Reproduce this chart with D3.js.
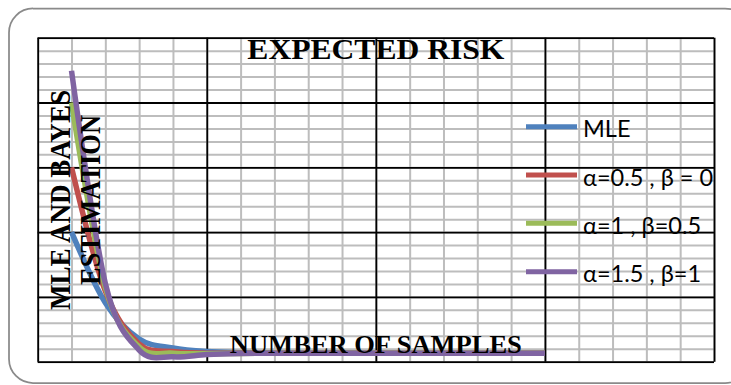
<!DOCTYPE html>
<html>
<head>
<meta charset="utf-8">
<script src="https://cdn.jsdelivr.net/npm/d3@7"></script>
<style>
  html, body { margin: 0; padding: 0; background: #fff; }
  svg { display: block; }
</style>
</head>
<body>
<svg id="chart" width="731" height="385"></svg>
<script>
// Number of samples along the x axis
const sampleSizes = [10, 20, 30, 40, 50, 60, 70, 80, 90, 100, 110, 120, 130, 140, 150];

// Expected risk of each estimator
const mle        = [0.100, 0.0455, 0.0175, 0.0106, 0.0078, 0.0070, 0.0068, 0.0067, 0.0067, 0.0066, 0.0066, 0.0066, 0.0066, 0.0066, 0.0066];
const bayesA05B0 = [0.150, 0.0545, 0.0137, 0.0078, 0.0066, 0.0065, 0.0065, 0.0065, 0.0065, 0.0065, 0.0065, 0.0065, 0.0065, 0.0065, 0.0065];
const bayesA1B05 = [0.200, 0.0575, 0.0114, 0.0066, 0.0062, 0.0064, 0.0065, 0.0065, 0.0065, 0.0065, 0.0065, 0.0065, 0.0065, 0.0065, 0.0065];
const bayesA15B1 = [0.2245, 0.0605, 0.0090, 0.0038, 0.0055, 0.0063, 0.0065, 0.0065, 0.0065, 0.0065, 0.0065, 0.0065, 0.0065, 0.0065, 0.0065];

const seriesNames  = ["MLE", "α=0.5 , β = 0", "α=1 , β=0.5", "α=1.5 , β=1"];
const seriesColors = ["#4F81BD", "#C0504D", "#9BBB59", "#8064A2"];
const seriesValues = [mle, bayesA05B0, bayesA1B05, bayesA15B1];

const chartTitle = "EXPECTED RISK";
const xTitle = "NUMBER OF SAMPLES";
const yTitleLines = ["MLE AND BAYES", "ESTIMATION"];

const svg = d3.select("#chart");

// Chart-area frame
svg.append("rect")
  .attr("x", 9).attr("y", 8.5)
  .attr("width", 740).attr("height", 374.5)
  .attr("rx", 24).attr("ry", 24)
  .attr("fill", "#fff")
  .attr("stroke", "#8a8a8a")
  .attr("stroke-width", 1.75);

const plot = { left: 37.7, right: 714, top: 37.7, bottom: 361.7 };

const x = d3.scaleLinear().domain([0, 200]).range([plot.left, plot.right]);
const y = d3.scaleLinear().domain([0, 0.25]).range([plot.bottom, plot.top]);

const xMinor = d3.range(0, 201, 10);
const xMajor = d3.range(0, 201, 50);
const yMinor = d3.range(0, 0.2501, 0.01);
const yMajor = d3.range(0, 0.2501, 0.05);

// Minor gridlines
svg.append("g")
  .attr("transform", `translate(0,${plot.bottom})`)
  .call(d3.axisBottom(x).tickValues(xMinor).tickSize(-(plot.bottom - plot.top)).tickFormat(""))
  .call(g => g.select(".domain").remove())
  .call(g => g.selectAll("line").attr("stroke", "#bdbdbd").attr("stroke-width", 2));

svg.append("g")
  .attr("transform", `translate(${plot.left},0)`)
  .call(d3.axisLeft(y).tickValues(yMinor).tickSize(-(plot.right - plot.left)).tickFormat(""))
  .call(g => g.select(".domain").remove())
  .call(g => g.selectAll("line").attr("stroke", "#bdbdbd").attr("stroke-width", 2));

// Major gridlines
svg.append("g")
  .attr("transform", `translate(0,${plot.bottom})`)
  .call(d3.axisBottom(x).tickValues(xMajor).tickSize(-(plot.bottom - plot.top)).tickFormat(""))
  .call(g => g.select(".domain").remove())
  .call(g => g.selectAll("line").attr("stroke", "#000").attr("stroke-width", 1.8));

svg.append("g")
  .attr("transform", `translate(${plot.left},0)`)
  .call(d3.axisLeft(y).tickValues(yMajor).tickSize(-(plot.right - plot.left)).tickFormat(""))
  .call(g => g.select(".domain").remove())
  .call(g => g.selectAll("line").attr("stroke", "#000").attr("stroke-width", 1.8));

// Smoothed series lines
const line = d3.line()
  .x((d, i) => x(sampleSizes[i]))
  .y(d => y(d))
  .curve(d3.curveCardinal.tension(0));

svg.append("g")
  .selectAll("path")
  .data(seriesValues)
  .join("path")
  .attr("d", d => line(d))
  .attr("fill", "none")
  .attr("stroke", (d, i) => seriesColors[i])
  .attr("stroke-width", 5.5)
  .attr("stroke-linejoin", "round")
  .attr("stroke-linecap", "butt");

// Titles
const serif = "'Liberation Serif', 'Times New Roman', serif";

svg.append("text")
  .attr("x", (plot.left + plot.right) / 2)
  .attr("y", 59.3)
  .attr("text-anchor", "middle")
  .attr("font-family", serif)
  .attr("font-weight", "bold")
  .attr("font-size", 29)
  .attr("textLength", 257)
  .attr("lengthAdjust", "spacingAndGlyphs")
  .text(chartTitle);

svg.append("text")
  .attr("x", (plot.left + plot.right) / 2)
  .attr("y", 352.7)
  .attr("text-anchor", "middle")
  .attr("font-family", serif)
  .attr("font-weight", "bold")
  .attr("font-size", 26)
  .attr("textLength", 292)
  .attr("lengthAdjust", "spacingAndGlyphs")
  .text(xTitle);

const yTitleBaselines = [70, 100];
const yTitleLengths = [220, 170];
yTitleLines.forEach((t, i) => {
  svg.append("text")
    .attr("transform", `translate(${yTitleBaselines[i]},200) rotate(-90)`)
    .attr("text-anchor", "middle")
    .attr("font-family", serif)
    .attr("font-weight", "bold")
    .attr("font-size", 29)
    .attr("textLength", yTitleLengths[i])
    .attr("lengthAdjust", "spacingAndGlyphs")
    .text(t);
});

// Legend
const legendY = d3.scalePoint().domain(seriesNames).range([126.7, 271.7]);
const legend = svg.append("g")
  .selectAll("g")
  .data(seriesNames)
  .join("g")
  .attr("transform", d => `translate(0,${legendY(d)})`);

legend.append("line")
  .attr("x1", 526).attr("x2", 577)
  .attr("stroke", (d, i) => seriesColors[i])
  .attr("stroke-width", 5);

legend.append("text")
  .attr("x", 583)
  .attr("y", 10.5)
  .attr("font-family", "Lato, 'Open Sans', sans-serif")
  .attr("font-size", 23.5)
  .attr("fill", "#000")
  .text(d => d);
</script>
</body>
</html>
